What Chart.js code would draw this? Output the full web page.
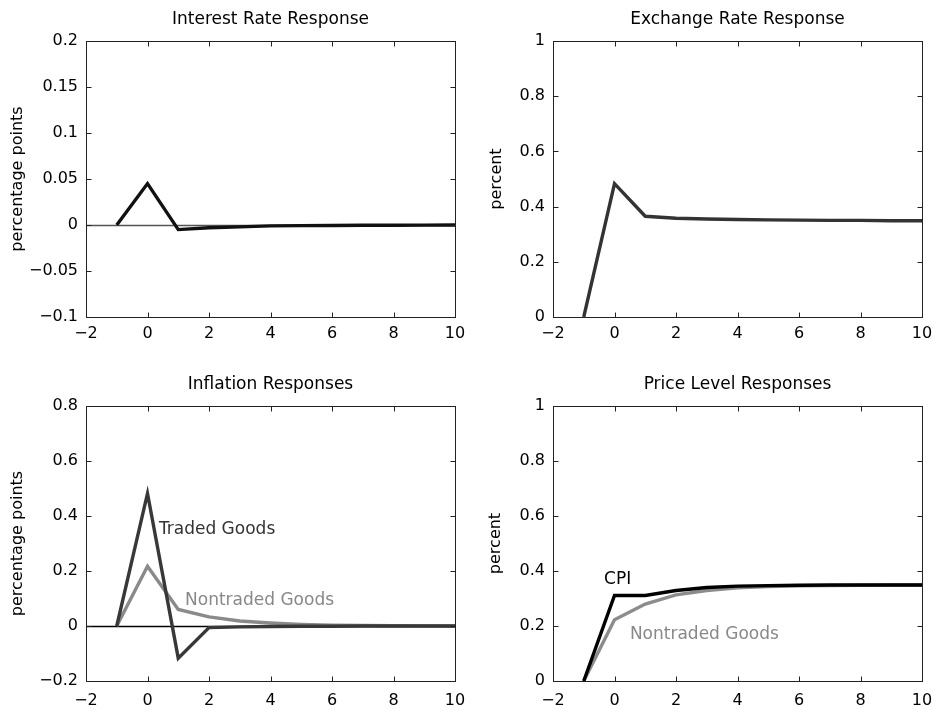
<!DOCTYPE html>
<html>
<head>
<meta charset="utf-8">
<script src="https://cdn.jsdelivr.net/npm/chart.js@4.4.0/dist/chart.umd.min.js"></script>
<style>
html, body { margin: 0; padding: 0; background: #fff; }
#wrap { position: relative; width: 934px; height: 710px; }
.cell { position: absolute; width: 467px; height: 355px; }
</style>
</head>
<body>
<div id="wrap">
    <div class="cell" style="left:0;top:0"><canvas id="interest" width="467" height="355"></canvas></div>
    <div class="cell" style="left:467px;top:0"><canvas id="exchange" width="467" height="355"></canvas></div>
    <div class="cell" style="left:0;top:355px"><canvas id="inflation" width="467" height="355"></canvas></div>
    <div class="cell" style="left:467px;top:355px"><canvas id="price" width="467" height="355"></canvas></div>
</div>
<script>
// periods after the shock
var periods = [-1, 0, 1, 2, 3, 4, 5, 6, 7, 8, 9, 10];

var interestRate = [0, 0.045, -0.005, -0.003, -0.002, -0.001, -0.0007, -0.0005, -0.0003, -0.0002, -0.0001, 0];
var exchangeRate = [0, 0.483, 0.365, 0.358, 0.355, 0.353, 0.352, 0.351, 0.350, 0.350, 0.349, 0.349];
var tradedInflation = [0, 0.482, -0.117, -0.006, -0.003, -0.002, -0.001, -0.001, 0, 0, 0, 0];
var nontradedInflation = [0, 0.217, 0.060, 0.033, 0.018, 0.011, 0.006, 0.003, 0.002, 0.001, 0.0005, 0];
var cpiLevel = [0, 0.311, 0.311, 0.329, 0.340, 0.345, 0.347, 0.348, 0.349, 0.349, 0.349, 0.349];
var nontradedLevel = [0, 0.223, 0.280, 0.313, 0.329, 0.339, 0.343, 0.346, 0.347, 0.348, 0.349, 0.349];

var xTicks = [-2, 0, 2, 4, 6, 8, 10];
var interestTicks = [-0.1, -0.05, 0, 0.05, 0.1, 0.15, 0.2];
var percentTicks = [0, 0.2, 0.4, 0.6, 0.8, 1];
var inflationTicks = [-0.2, 0, 0.2, 0.4, 0.6, 0.8];

var FONT = 'DejaVu Sans';

function pts(ys) {
    return periods.map(function (p, i) { return { x: p, y: ys[i] }; });
}

function fmt(v) {
    var s = String(Number(v.toFixed(3)));
    return s.replace('-', '\u2212');
}

// box round the plot with inward ticks, zero line, title and text labels
var frame = {
    id: 'frame',
    beforeDatasetsDraw: function (chart, args, o) {
        if (!o.zero) return;
        var ctx = chart.ctx, a = chart.chartArea;
        var y0 = Math.round(chart.scales.y.getPixelForValue(0)) + 0.5;
        ctx.save();
        ctx.strokeStyle = o.zero;
        ctx.lineWidth = 1.5;
        ctx.beginPath();
        ctx.moveTo(a.left, y0);
        ctx.lineTo(a.right, y0);
        ctx.stroke();
        ctx.restore();
    },
    afterDatasetsDraw: function (chart, args, o) {
        var ctx = chart.ctx, a = chart.chartArea;
        var xs = chart.scales.x, ys = chart.scales.y;
        var L = Math.round(a.left) + 0.5, R = Math.round(a.right) + 0.5;
        var T = Math.round(a.top) + 0.5, B = Math.round(a.bottom) + 0.5;
        ctx.save();
        ctx.strokeStyle = '#222';
        ctx.lineWidth = 1;
        ctx.strokeRect(L, T, R - L, B - T);
        ctx.beginPath();
        xs.ticks.forEach(function (t) {
            var px = Math.round(xs.getPixelForValue(t.value)) + 0.5;
            ctx.moveTo(px, B); ctx.lineTo(px, B - 5);
            ctx.moveTo(px, T); ctx.lineTo(px, T + 5);
        });
        ys.ticks.forEach(function (t) {
            var py = Math.round(ys.getPixelForValue(t.value)) + 0.5;
            ctx.moveTo(L, py); ctx.lineTo(L + 5, py);
            ctx.moveTo(R, py); ctx.lineTo(R - 5, py);
        });
        ctx.stroke();

        ctx.fillStyle = '#000';
        ctx.font = '17px "' + FONT + '"';
        ctx.textAlign = 'center';
        ctx.textBaseline = 'middle';
        ctx.fillText(o.title, (a.left + a.right) / 2, a.top - 21);

        (o.labels || []).forEach(function (lb) {
            ctx.fillStyle = lb.color;
            ctx.textAlign = 'left';
            ctx.fillText(lb.text, xs.getPixelForValue(lb.x), ys.getPixelForValue(lb.y));
        });
        ctx.restore();
    }
};

function line(ys, color, order) {
    return {
        data: pts(ys),
        borderColor: color,
        borderWidth: 3.4,
        pointRadius: 0,
        tension: 0,
        order: order
    };
}

function noOverflow(s) {
    s.paddingLeft = 0; s.paddingRight = 0; s.paddingTop = 0; s.paddingBottom = 0;
}

function makeChart(id, c) {
    return new Chart(document.getElementById(id), {
        type: 'line',
        data: { datasets: c.datasets },
        plugins: [frame],
        options: {
            responsive: false,
            animation: false,
            devicePixelRatio: 1,
            layout: { padding: { left: 0, right: 12, top: c.top, bottom: 0 } },
            plugins: {
                legend: { display: false },
                tooltip: { enabled: false },
                frame: { title: c.title, zero: c.zero, labels: c.labels }
            },
            scales: {
                x: {
                    type: 'linear',
                    min: -2,
                    max: 10,
                    afterBuildTicks: function (s) { s.ticks = xTicks.map(function (v) { return { value: v }; }); },
                    afterFit: function (s) { s.height = c.xHeight; noOverflow(s); },
                    grid: { display: false, drawTicks: false },
                    border: { display: false },
                    ticks: {
                        autoSkip: false, maxRotation: 0, padding: c.xPad, color: '#000',
                        font: { family: FONT, size: 16 },
                        callback: fmt
                    }
                },
                y: {
                    min: c.yTicks[0],
                    max: c.yTicks[c.yTicks.length - 1],
                    afterBuildTicks: function (s) { s.ticks = c.yTicks.map(function (v) { return { value: v }; }); },
                    afterFit: function (s) { s.width = 86; noOverflow(s); },
                    grid: { display: false, drawTicks: false },
                    border: { display: false },
                    title: {
                        display: true,
                        text: c.yTitle,
                        color: '#000',
                        font: { family: FONT, size: 16, lineHeight: 1.2 },
                        padding: { top: c.yTitlePad, bottom: 0 }
                    },
                    ticks: {
                        autoSkip: false, padding: 8, color: '#000',
                        font: { family: FONT, size: 16 },
                        callback: fmt
                    }
                }
            }
        }
    });
}

makeChart('interest', {
    title: 'Interest Rate Response',
    top: 41, xHeight: 38, xPad: 7,
    yTicks: interestTicks, yTitle: 'percentage points', yTitlePad: 8.4,
    zero: '#555',
    datasets: [line(interestRate, '#111', 1)]
});

makeChart('exchange', {
    title: 'Exchange Rate Response',
    top: 41, xHeight: 38, xPad: 7,
    yTicks: percentTicks, yTitle: 'percent', yTitlePad: 20.4,
    datasets: [line(exchangeRate, '#333', 1)]
});

makeChart('inflation', {
    title: 'Inflation Responses',
    top: 51, xHeight: 29, xPad: 10,
    yTicks: inflationTicks, yTitle: 'percentage points', yTitlePad: 8.4,
    zero: '#000',
    labels: [
        { text: 'Traded Goods', x: 0.37, y: 0.35, color: '#333' },
        { text: 'Nontraded Goods', x: 1.22, y: 0.094, color: '#888' }
    ],
    datasets: [
        line(tradedInflation, '#383838', 1),
        line(nontradedInflation, '#8a8a8a', 2)
    ]
});

makeChart('price', {
    title: 'Price Level Responses',
    top: 51, xHeight: 29, xPad: 10,
    yTicks: percentTicks, yTitle: 'percent', yTitlePad: 19.4,
    labels: [
        { text: 'CPI', x: -0.34, y: 0.367, color: '#000' },
        { text: 'Nontraded Goods', x: 0.5, y: 0.167, color: '#888' }
    ],
    datasets: [
        line(cpiLevel, '#000', 1),
        line(nontradedLevel, '#8c8c8c', 2)
    ]
});
</script>
</body>
</html>
